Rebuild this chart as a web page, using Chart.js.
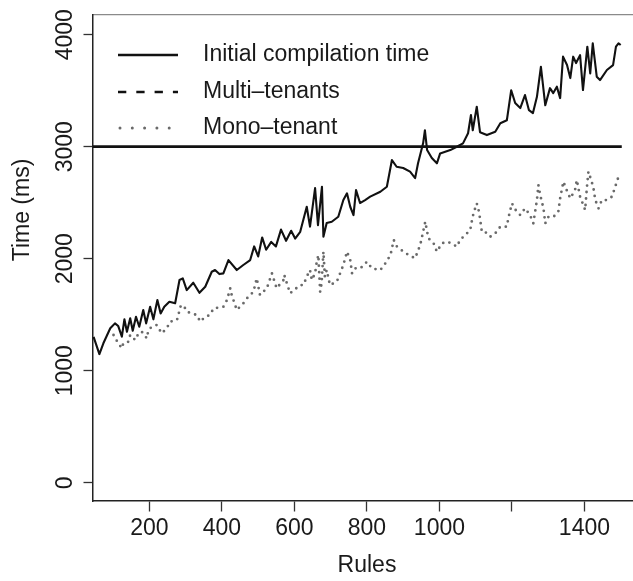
<!DOCTYPE html>
<html><head><meta charset="utf-8">
<script src="https://cdn.jsdelivr.net/npm/chart.js@4.4.1/dist/chart.umd.min.js"></script>
<style>html,body{margin:0;padding:0;background:#fff;}</style>
</head><body>
<canvas id="c" width="633" height="581"></canvas>
<script>
// ---- data ----
const seriesNames = ['Initial compilation time', 'Multi\u2013tenants', 'Mono\u2013tenant'];

const initialRules = [43, 1503];
const initialTime  = [3000, 3000];

const multiRules = [46,62,73,92,105,114,124,131,138,147,154,163,172,183,191,202,211,222,231,241,255,271,283,292,303,321,338,354,372,381,393,404,418,441,459,478,
  489,500,511,522,536,549,563,577,591,602,616,634,643,657,665,676,680,689,703,721,735,745,754,763,770,781,795,809,837,855,869,882,900,919,933,941,955,960,966,979,993,
  1002,1016,1030,1048,1065,1079,1087,1092,1103,1112,1131,1154,1168,1186,1198,1209,1223,1236,1247,1258,1269,1280,1292,1305,1314,1324,1333,1341,1352,1361,1369,1377,1388,1396,1408,1416,1423,1434,1443,1462,1479,1487,1494,1500];
const multiTime = [1303,1149,1245,1379,1423,1399,1304,1459,1348,1468,1357,1482,1393,1542,1423,1571,1459,1631,1512,1571,1616,1602,1810,1825,1720,1786,1696,1750,1884,1899,1863,1869,1988,1899,1944,1988,
  2110,2020,2190,2080,2150,2110,2260,2160,2250,2180,2240,2464,2286,2630,2300,2643,2196,2318,2330,2375,2524,2584,2464,2390,2613,2497,2524,2554,2598,2643,2881,2821,2810,2777,2720,2852,3030,3147,2970,2899,2852,
  2940,2955,2970,3000,3030,3120,3283,3147,3357,3130,3104,3134,3209,3236,3504,3390,3345,3461,3326,3300,3446,3714,3370,3523,3479,3536,3434,3804,3729,3613,3804,3747,3818,3506,3893,3655,3923,3625,3595,3685,3729,3893,3923,3908];

const monoRules = [101,114,124,128,142,147,161,170,179,193,197,207,220,234,248,257,276,280,285,294,303,331,340,354,367,377,404,414,423,427,441,459,469,487,496,505,524,538,551,570,572,588,616,
  625,634,643,648,657,661,666,671,675,680,684,689,698,717,726,735,745,754,759,768,782,800,814,837,851,865,874,883,901,915,933,947,952,961,966,970,984,993,
  1007,1020,1034,1048,1057,1071,1085,1090,1094,1103,1108,1112,1117,1126,1140,1154,1168,1186,1190,1200,1213,1223,1236,1250,1259,1269,1273,1278,1287,1292,1301,1315,1328,1333,1342,1351,1361,1374,1379,1388,1397,1402,1407,1411,1420,1425,1430,1439,1448,1462,1476,1485,1494,1500];
const monoTime = [1319,1245,1200,1245,1259,1319,1274,1334,1348,1289,1363,1393,1408,1334,1379,1438,1453,1497,1571,1586,1527,1497,1438,1482,1497,1557,1571,1631,1736,1676,1542,1601,1646,1705,1825,1676,1736,1869,1736,1810,1854,1691,1765,
  1765,1839,1899,1810,1869,1959,2033,1705,1780,2063,1839,1899,1765,1795,1869,1944,2063,1988,1869,1914,1914,1973,1914,1899,1959,2033,2167,2107,2063,2033,2004,2122,2196,2330,2241,2182,2137,2063,
  2137,2152,2137,2107,2167,2211,2256,2345,2405,2494,2435,2360,2241,2241,2196,2226,2286,2286,2360,2494,2420,2390,2450,2390,2316,2524,2658,2569,2450,2316,2375,2375,2420,2539,2688,2613,2539,2613,2703,2554,2479,2435,2643,2777,2688,2628,2524,2450,2524,2524,2554,2643,2732,2760];

const xTicks = [200, 400, 600, 800, 1000, 1200, 1400];
const xTickLabels = ['200', '400', '600', '800', '1000', '', '1400'];
const yTicks = [0, 1000, 2000, 3000, 4000];
const yTickLabels = ['0', '1000', '2000', '3000', '4000'];
const xTitle = 'Rules';
const yTitle = 'Time (ms)';

// ---- styles ----
const FONT = '"Liberation Sans", Arial, Helvetica, sans-serif';
const INK = '#1a1a1a';
const legendStyles = [
  {color: '#111', width: 2.6, dash: [], cap: 'butt'},
  {color: '#111', width: 2.6, dash: [8.3, 10], cap: 'butt'},
  {color: '#6a6a6a', width: 3, dash: [0, 12.3], cap: 'round'}
];

const toPts = (xs, ys) => xs.map((x, i) => ({x: x, y: ys[i]}));

const annot = {
  id: 'annot',
  afterDraw(chart) {
    const ctx = chart.ctx;
    const ys = chart.scales.y;
    ctx.save();
    ctx.fillStyle = INK;
    ctx.font = '23px ' + FONT;
    // rotated y tick labels
    yTicks.forEach((v, i) => {
      const py = ys.getPixelForValue(v);
      ctx.save();
      ctx.translate(72, py);
      ctx.rotate(-Math.PI / 2);
      ctx.textAlign = 'center';
      ctx.textBaseline = 'alphabetic';
      ctx.fillText(yTickLabels[i], 0, 0);
      ctx.restore();
    });
    // y title
    ctx.save();
    ctx.translate(29, 210);
    ctx.rotate(-Math.PI / 2);
    ctx.textAlign = 'center';
    ctx.textBaseline = 'alphabetic';
    ctx.fillText(yTitle, 0, 0);
    ctx.restore();
    // x title
    ctx.textAlign = 'center';
    ctx.textBaseline = 'middle';
    ctx.fillText(xTitle, 367, 566);
    // legend
    const rowsY = [55, 92, 128];
    chart.data.datasets.forEach((ds, i) => {
      const st = legendStyles[i];
      ctx.save();
      ctx.strokeStyle = st.color;
      ctx.lineWidth = st.width;
      ctx.lineCap = st.cap;
      ctx.setLineDash(st.dash);
      ctx.beginPath();
      ctx.moveTo(st.cap === 'round' ? 120 : 118, rowsY[i]);
      ctx.lineTo(178, rowsY[i]);
      ctx.stroke();
      ctx.restore();
      ctx.fillStyle = INK;
      ctx.textAlign = 'left';
      ctx.textBaseline = 'middle';
      ctx.fillText(ds.label, 203, rowsY[i]);
    });
    ctx.restore();
  }
};

new Chart(document.getElementById('c'), {
  type: 'line',
  data: {
    datasets: [
      {label: seriesNames[0], data: toPts(initialRules, initialTime), borderColor: '#111', borderWidth: 2.8, pointRadius: 0, tension: 0},
      {label: seriesNames[1], data: toPts(multiRules, multiTime), borderColor: '#111', borderWidth: 2.1, pointRadius: 0, tension: 0, borderJoinStyle: 'round'},
      {label: seriesNames[2], data: toPts(monoRules, monoTime), borderColor: '#6a6a6a', borderWidth: 2.8, borderDash: [0, 6.5], borderCapStyle: 'round', pointRadius: 0, tension: 0}
    ]
  },
  options: {
    responsive: false,
    animation: false,
    devicePixelRatio: 1,
    layout: {padding: {top: 15, left: 0, right: 0, bottom: 0}},
    plugins: {legend: {display: false}, tooltip: {enabled: false}},
    scales: {
      x: {
        type: 'linear', position: 'bottom', min: 43, max: 1534,
        afterBuildTicks: s => { s.ticks = xTicks.map(v => ({value: v})); },
        afterFit: s => { s.height = 80; },
        ticks: {autoSkip: false, maxRotation: 0, minRotation: 0, padding: 3, color: INK,
          font: {family: FONT, size: 23}, callback: (v, i) => xTickLabels[i]},
        grid: {drawOnChartArea: false, drawTicks: true, tickLength: 10.5, tickColor: '#333', tickWidth: 1.3, color: '#333'},
        border: {display: true, color: '#222', width: 1.5}
      },
      xTop: {
        type: 'linear', position: 'top', min: 43, max: 1534,
        afterFit: s => { s.height = 0; },
        ticks: {display: false},
        grid: {display: false},
        border: {display: true, color: '#8a8a8a', width: 1.2}
      },
      y: {
        type: 'linear', position: 'left', min: -163, max: 4176,
        afterBuildTicks: s => { s.ticks = yTicks.map(v => ({value: v})); },
        afterFit: s => { s.width = 92.5; },
        ticks: {display: false},
        grid: {drawOnChartArea: false, drawTicks: true, tickLength: 9, tickColor: '#333', tickWidth: 1.3, color: '#333'},
        border: {display: true, color: '#222', width: 1.5}
      }
    }
  },
  plugins: [annot]
});
</script>
</body></html>
